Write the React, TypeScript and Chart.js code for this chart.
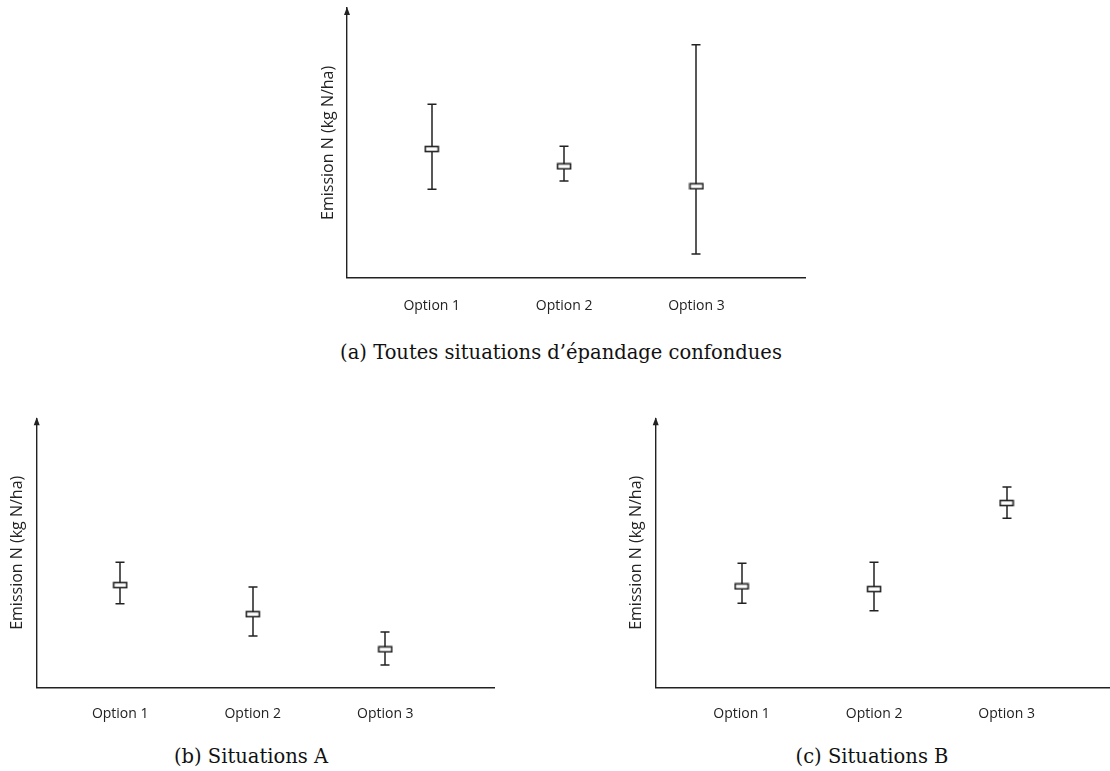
import React, { useEffect, useRef } from "react";
import { Chart, registerables } from "chart.js";
Chart.register(...registerables);

// ---- data ----
const categories = ["Option 1", "Option 2", "Option 3"];
const catPositions = [1, 2, 3];

const meanA = [47.7, 41.3, 33.9];
const lowA = [32.8, 35.9, 8.8];
const highA = [64.3, 48.7, 86.4];

const meanB = [38.0, 27.2, 14.1];
const lowB = [31.1, 19.1, 8.3];
const highB = [46.5, 37.3, 20.6];

const meanC = [37.5, 36.5, 68.5];
const lowC = [31.2, 28.5, 62.8];
const highC = [46.1, 46.5, 74.5];

const yLabel = "Emission N (kg N/ha)";
const captionA = "(a) Toutes situations d\u2019\u00e9pandage confondues";
const captionB = "(b) Situations A";
const captionC = "(c) Situations B";

const INK = "#222";

function makeBoxStyle(): HTMLCanvasElement {
  const c = document.createElement("canvas");
  c.width = 16;
  c.height = 8;
  const ctx = c.getContext("2d")!;
  ctx.fillStyle = "#fff";
  ctx.fillRect(1, 1, 14, 6);
  ctx.strokeStyle = INK;
  ctx.lineWidth = 1.6;
  ctx.strokeRect(1.5, 1.5, 13, 5);
  return c;
}

const errorBarPlugin = {
  id: "errorBars",
  beforeDatasetsDraw(chart: any) {
    const ctx = chart.ctx;
    const xs = chart.scales.x;
    const ys = chart.scales.y;
    chart.data.datasets.forEach((ds: any) => {
      const lows: number[] = ds.errLow || [];
      const highs: number[] = ds.errHigh || [];
      ds.data.forEach((pt: any, i: number) => {
        const x = Math.round(xs.getPixelForValue(pt.x));
        const yl = ys.getPixelForValue(lows[i]);
        const yh = ys.getPixelForValue(highs[i]);
        ctx.save();
        ctx.strokeStyle = INK;
        ctx.lineWidth = 1.5;
        ctx.beginPath();
        ctx.moveTo(x, yh);
        ctx.lineTo(x, yl);
        ctx.moveTo(x - 4.5, yh);
        ctx.lineTo(x + 4.5, yh);
        ctx.moveTo(x - 4.5, yl);
        ctx.lineTo(x + 4.5, yl);
        ctx.stroke();
        ctx.restore();
      });
    });
  },
  afterDraw(chart: any) {
    const ctx = chart.ctx;
    const { left, top } = chart.chartArea;
    ctx.save();
    ctx.fillStyle = INK;
    ctx.beginPath();
    ctx.moveTo(left, top - 1);
    ctx.lineTo(left - 3, top + 7);
    ctx.lineTo(left + 3, top + 7);
    ctx.closePath();
    ctx.fill();
    ctx.restore();
  },
};

interface PanelProps {
  means: number[];
  lows: number[];
  highs: number[];
  left: number;
  top: number;
  width: number;
  height: number;
  padLeft: number;
  padTop: number;
  padRight: number;
  yWidth: number;
  xHeight: number;
  xMin: number;
  xMax: number;
  tickPad: number;
}

function Panel(p: PanelProps) {
  const ref = useRef<HTMLCanvasElement>(null);
  useEffect(() => {
    if (!ref.current) return;
    const chart = new Chart(ref.current, {
      type: "scatter",
      data: {
        datasets: [
          {
            data: catPositions.map((x, i) => ({ x, y: p.means[i] })),
            errLow: p.lows,
            errHigh: p.highs,
            pointStyle: makeBoxStyle(),
            pointRadius: 4,
            pointHoverRadius: 4,
          } as any,
        ],
      },
      options: {
        animation: false,
        responsive: false,
        events: [],
        layout: {
          autoPadding: false,
          padding: { left: p.padLeft, top: p.padTop, right: p.padRight, bottom: 0 },
        },
        plugins: { legend: { display: false }, tooltip: { enabled: false } },
        scales: {
          x: {
            type: "linear",
            min: p.xMin,
            max: p.xMax,
            grid: { display: false, drawTicks: false },
            border: { display: true, color: INK, width: 1.4 },
            afterBuildTicks: (scale: any) => {
              scale.ticks = catPositions.map((v) => ({ value: v }));
            },
            afterFit: (scale: any) => {
              scale.height = p.xHeight;
            },
            ticks: {
              autoSkip: false,
              maxRotation: 0,
              padding: p.tickPad,
              color: INK,
              font: { family: "'Open Sans'", size: 14 },
              callback: (v: any) => {
                const idx = catPositions.indexOf(Number(v));
                return idx >= 0 ? categories[idx] : "";
              },
            },
          },
          y: {
            type: "linear",
            min: 0,
            max: 100,
            grid: { display: false, drawTicks: false },
            border: { display: true, color: INK, width: 1.4 },
            ticks: { display: false },
            afterFit: (scale: any) => {
              scale.width = p.yWidth;
            },
            title: {
              display: true,
              text: yLabel,
              color: INK,
              padding: { top: 4, bottom: 4 },
              font: { family: "'Open Sans'", size: 16 },
            },
          },
        },
      },
      plugins: [errorBarPlugin],
    } as any);
    return () => chart.destroy();
  }, []);
  return (
    <canvas
      ref={ref}
      width={p.width}
      height={p.height}
      style={{ position: "absolute", left: p.left, top: p.top, width: p.width, height: p.height }}
    />
  );
}

const captionStyle: React.CSSProperties = {
  position: "absolute",
  fontFamily: "'DejaVu Serif', serif",
  fontSize: 19.5,
  color: "#111",
  whiteSpace: "nowrap",
  transform: "translate(-50%, -50%)",
};

export default function App() {
  return (
    <div style={{ position: "absolute", left: 0, top: 0, width: 1110, height: 771, background: "#fff", overflow: "hidden" }}>
      <Panel means={meanA} lows={lowA} highs={highA} left={300} top={0} width={520} height={320}
        padLeft={14.4} padTop={8} padRight={15} yWidth={32.6} xHeight={42.3} xMin={0.36} xMax={3.82} tickPad={19.5} />
      <Panel means={meanB} lows={lowB} highs={highB} left={0} top={400} width={510} height={330}
        padLeft={3.8} padTop={18.3} padRight={16} yWidth={32.9} xHeight={42.7} xMin={0.37} xMax={3.82} tickPad={18} />
      <Panel means={meanC} lows={lowC} highs={highC} left={620} top={400} width={490} height={330}
        padLeft={2.7} padTop={18.3} padRight={1} yWidth={33} xHeight={42.7} xMin={0.352} xMax={3.773} tickPad={18} />
      <div style={{ ...captionStyle, left: 561, top: 352 }}>{captionA}</div>
      <div style={{ ...captionStyle, left: 251, top: 756 }}>{captionB}</div>
      <div style={{ ...captionStyle, left: 872, top: 756 }}>{captionC}</div>
    </div>
  );
}
